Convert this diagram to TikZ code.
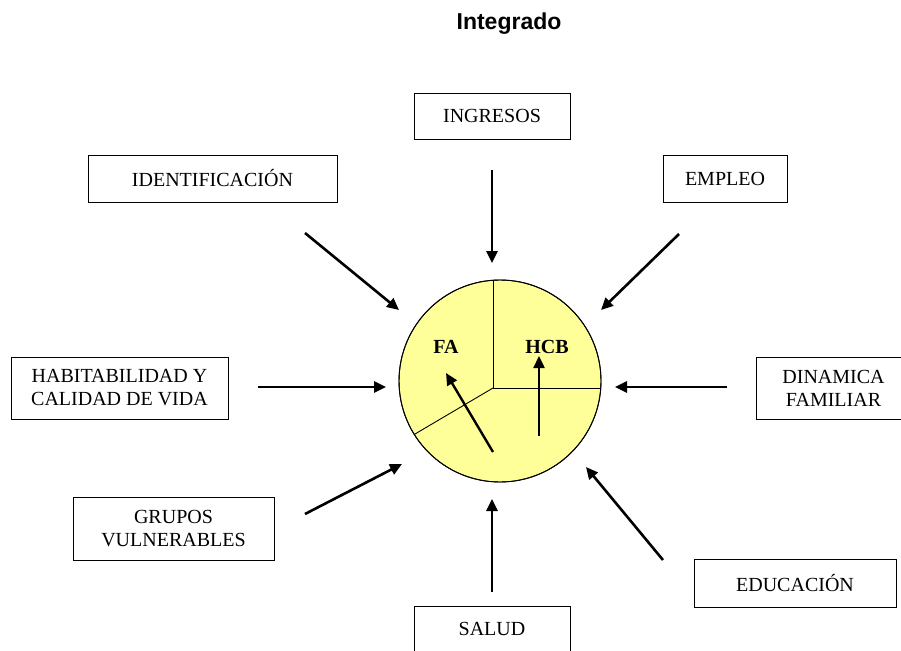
\documentclass[tikz,border=0pt]{standalone}
\usepackage{fontspec}
\setmainfont{Liberation Serif}
\newfontfamily\titlefont{Liberation Sans}
\usetikzlibrary{arrows.meta,calc}
\begin{document}
\begin{tikzpicture}[x=1pt,y=-1pt,
  boxnode/.style={draw, line width=0.9pt, inner sep=0pt, align=center,
    font=\fontsize{20}{23}\selectfont},
  arr/.style={line width=2.6pt, -{Triangle[length=12pt,width=11pt]}},
  inarr/.style={line width=2.4pt, -{Triangle[length=12pt,width=11pt]}}]
\useasboundingbox (0,0) rectangle (901,650);
\definecolor{paleyellow}{RGB}{255,255,153}
% title
\node[font=\titlefont\bfseries\fontsize{23}{27}\selectfont] (title) at (509,24) {Integrado};
% boxes
\node[boxnode, minimum width=156pt, minimum height=46pt] (ing) at (492,116) {INGRESOS};
\node[boxnode, minimum width=249pt, minimum height=47pt] (ide) at (212.5,178.5) {IDENTIFICACIÓN};
\node[boxnode, minimum width=124pt, minimum height=47pt] (emp) at (725,178.5) {EMPLEO};
\node[boxnode, minimum width=217pt, minimum height=62pt] (hab) at (119.5,388) {HABITABILIDAD Y\\CALIDAD DE VIDA};
\node[boxnode, minimum width=155pt, minimum height=62pt] (din) at (833.5,388) {DINAMICA\\FAMILIAR};
\node[boxnode, minimum width=201pt, minimum height=63pt] (gru) at (173.5,528.5) {GRUPOS\\VULNERABLES};
\node[boxnode, minimum width=202pt, minimum height=48pt] (edu) at (795,583) {EDUCACIÓN};
\node[boxnode, minimum width=156pt, minimum height=46pt] (sal) at (492,629) {SALUD};
% circle
\node[circle, draw, line width=0.9pt, fill=paleyellow, minimum size=202pt, inner sep=0pt] (c) at (500,381) {};
\coordinate (o) at (493,388);
\begin{scope}
  \clip (500,381) circle (101);
  \draw[line width=0.9pt] (o) -- (493,250);
  \draw[line width=0.9pt] (o) -- (650,388);
  \draw[line width=0.9pt] (o) -- ($(o)!2.5!(415,434)$);
\end{scope}
\draw[line width=0.9pt] (c) circle (101);
\node[font=\bfseries\fontsize{20}{23}\selectfont] (fa) at (446,347) {FA};
\node[font=\bfseries\fontsize{20}{23}\selectfont] (hcb) at (547,347) {HCB};
\coordinate (fa0) at (493,452);
\coordinate (fa1) at (446,373);
\coordinate (hc0) at (539,436);
\coordinate (hc1) at (539,356);
\draw[inarr] (fa0) -- (fa1);
\draw[inarr] (hc0) -- (hc1);
% outer arrows
\coordinate (a1s) at (492,170); \coordinate (a1e) at (492,263);
\coordinate (a2s) at (305,233); \coordinate (a2e) at (399,310);
\coordinate (a3s) at (679,234); \coordinate (a3e) at (601,310);
\coordinate (a4s) at (258,387); \coordinate (a4e) at (386,387);
\coordinate (a5s) at (727,387); \coordinate (a5e) at (615,387);
\coordinate (a6s) at (305,514); \coordinate (a6e) at (402,464);
\coordinate (a7s) at (663,560); \coordinate (a7e) at (586,467);
\coordinate (a8s) at (492,592); \coordinate (a8e) at (492,499);
\draw[arr] (a1s) -- (a1e);
\draw[arr] (a2s) -- (a2e);
\draw[arr] (a3s) -- (a3e);
\draw[arr] (a4s) -- (a4e);
\draw[arr] (a5s) -- (a5e);
\draw[arr] (a6s) -- (a6e);
\draw[arr] (a7s) -- (a7e);
\draw[arr] (a8s) -- (a8e);
\end{tikzpicture}
\end{document}
